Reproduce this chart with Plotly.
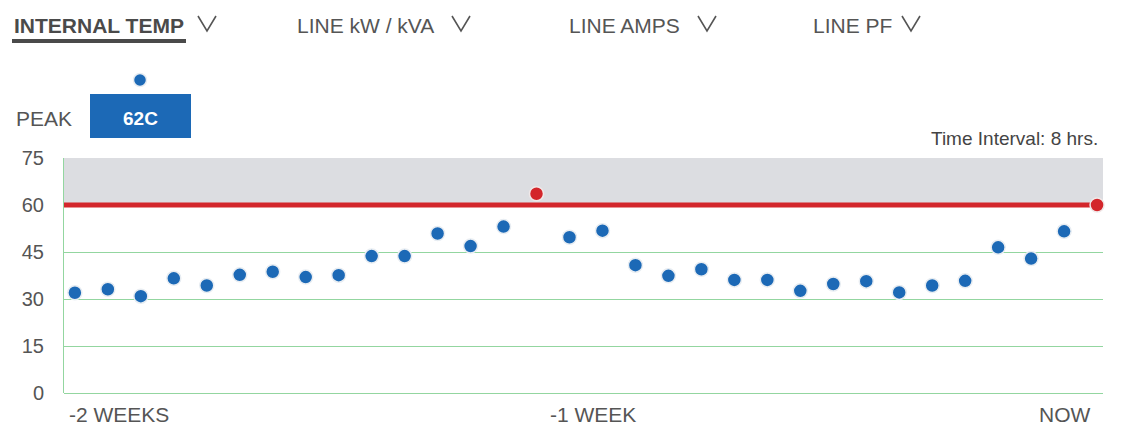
import plotly.graph_objects as go

# ---- data ----
temps = [32.0, 33.1, 30.9, 36.6, 34.3, 37.7, 38.7, 37.0, 37.6, 43.7, 43.7, 50.9, 46.9, 53.1,
         63.6, 49.7, 51.8, 40.8, 37.4, 39.5, 36.1, 36.1, 32.6, 34.8, 35.7, 32.1, 34.3, 35.8,
         46.5, 42.9, 51.6]
threshold = 60
y_ticks = [0, 15, 30, 45, 60, 75]
x_labels = ["-2 WEEKS", "-1 WEEK", "NOW"]
tabs = ["INTERNAL TEMP", "LINE kW / kVA", "LINE AMPS", "LINE PF"]
peak_label = "62C"

OFF = 8  # default page margin of the browser
W, H = 1121 - OFF, 427 - OFF
L, R, T, B = 64, 1103, 158, 393  # plot area in screen pixels

def px(x):
    return (x - L) / (R - L)

def py(y):
    return (B - y) / (B - T)

idx = list(range(len(temps)))
n_total = len(temps) + 1
blue = "#1c69b6"
red = "#d3262b"
green = "#93d6a0"
txt = "#555555"
font = "Liberation Sans, Arial, sans-serif"

normal_x = [i for i, v in zip(idx, temps) if v <= threshold]
normal_y = [v for v in temps if v <= threshold]
over_x = [i for i, v in zip(idx, temps) if v > threshold]
over_y = [v for v in temps if v > threshold]

fig = go.Figure()
fig.add_trace(go.Scatter(x=normal_x, y=normal_y, mode="markers",
                         marker=dict(size=14, color=blue, line=dict(color="#e8edf2", width=1.5)),
                         hoverinfo="skip"))
fig.add_trace(go.Scatter(x=over_x, y=over_y, mode="markers",
                         marker=dict(size=14, color=red, line=dict(color="#f0e8e8", width=1.5)),
                         hoverinfo="skip"))
fig.add_trace(go.Scatter(x=[-0.4, n_total - 1], y=[threshold, threshold], mode="lines",
                         line=dict(color=red, width=5), hoverinfo="skip"))
fig.add_trace(go.Scatter(x=[n_total - 1], y=[threshold], mode="markers",
                         marker=dict(size=14, color=red, line=dict(color="#f0e8e8", width=1.5)),
                         hoverinfo="skip", cliponaxis=False))

shapes = [
    dict(type="rect", xref="paper", yref="y", x0=0, x1=1, y0=threshold, y1=75,
         fillcolor="#dcdde1", line=dict(width=0), layer="below"),
    dict(type="line", xref="paper", yref="paper", x0=px(12), x1=px(186), y0=py(41), y1=py(41),
         line=dict(color="#4a4a4a", width=4)),
    dict(type="rect", xref="paper", yref="paper", x0=px(90), x1=px(191), y0=py(138), y1=py(94),
         fillcolor=blue, line=dict(width=0)),
    dict(type="circle", xref="paper", yref="paper", x0=px(133.5), x1=px(146.5), y0=py(86.5), y1=py(73.5),
         fillcolor=blue, line=dict(color="#e8edf2", width=1.5)),
]

annotations = []
tab_x = [12, 295, 567, 811]
chev_x = [207, 461, 707, 911]
for i, (t, tx, cx) in enumerate(zip(tabs, tab_x, chev_x)):
    annotations.append(dict(x=px(tx), y=py(25), xref="paper", yref="paper",
                            text=("<b>%s</b>" % t) if i == 0 else t,
                            showarrow=False, xanchor="left", yanchor="middle",
                            font=dict(family=font, size=21,
                                      color="#4a4a4a" if i == 0 else txt)))
    shapes.append(dict(type="path", xref="paper", yref="paper",
                       path="M %f,%f L %f,%f L %f,%f" % (px(cx - 9), py(16), px(cx), py(31), px(cx + 9), py(16)),
                       line=dict(color=txt, width=1.6)))

annotations.append(dict(x=px(14), y=py(118), xref="paper", yref="paper", text="PEAK", showarrow=False,
                        xanchor="left", yanchor="middle", font=dict(family=font, size=21, color=txt)))
annotations.append(dict(x=px(140.5), y=py(118), xref="paper", yref="paper", text="<b>%s</b>" % peak_label,
                        showarrow=False, xanchor="center", yanchor="middle",
                        font=dict(family=font, size=19, color="white")))
annotations.append(dict(x=px(1100), y=py(138), xref="paper", yref="paper", text="Time Interval: 8 hrs.",
                        showarrow=False, xanchor="right", yanchor="middle",
                        font=dict(family=font, size=19, color="#444444")))
annotations.append(dict(x=px(67), y=py(414), xref="paper", yref="paper", text=x_labels[0], showarrow=False,
                        xanchor="left", yanchor="middle", font=dict(family=font, size=21, color=txt)))
annotations.append(dict(x=px(593), y=py(414), xref="paper", yref="paper", text=x_labels[1], showarrow=False,
                        xanchor="center", yanchor="middle", font=dict(family=font, size=21, color=txt)))
annotations.append(dict(x=px(1093), y=py(414), xref="paper", yref="paper", text=x_labels[2], showarrow=False,
                        xanchor="right", yanchor="middle", font=dict(family=font, size=21, color=txt)))

fig.update_layout(
    width=W, height=H,
    margin=dict(l=L - OFF, r=1121 - R, t=T - OFF, b=427 - B),
    paper_bgcolor="white", plot_bgcolor="white",
    showlegend=False,
    shapes=shapes,
    annotations=annotations,
    xaxis=dict(range=[-0.33, n_total - 1 + 0.18], showgrid=False, zeroline=False, showticklabels=False,
               showline=False, fixedrange=True),
    yaxis=dict(range=[0, 75], tickvals=y_ticks, ticktext=[str(v) for v in y_ticks],
               showgrid=True, gridcolor=green, gridwidth=1, zeroline=True, zerolinecolor=green,
               zerolinewidth=1, showline=True, linecolor=green, linewidth=1, ticks="", ticklabelstandoff=15,
               tickfont=dict(family=font, size=20, color=txt), fixedrange=True),
)

fig.write_html("out.html")
